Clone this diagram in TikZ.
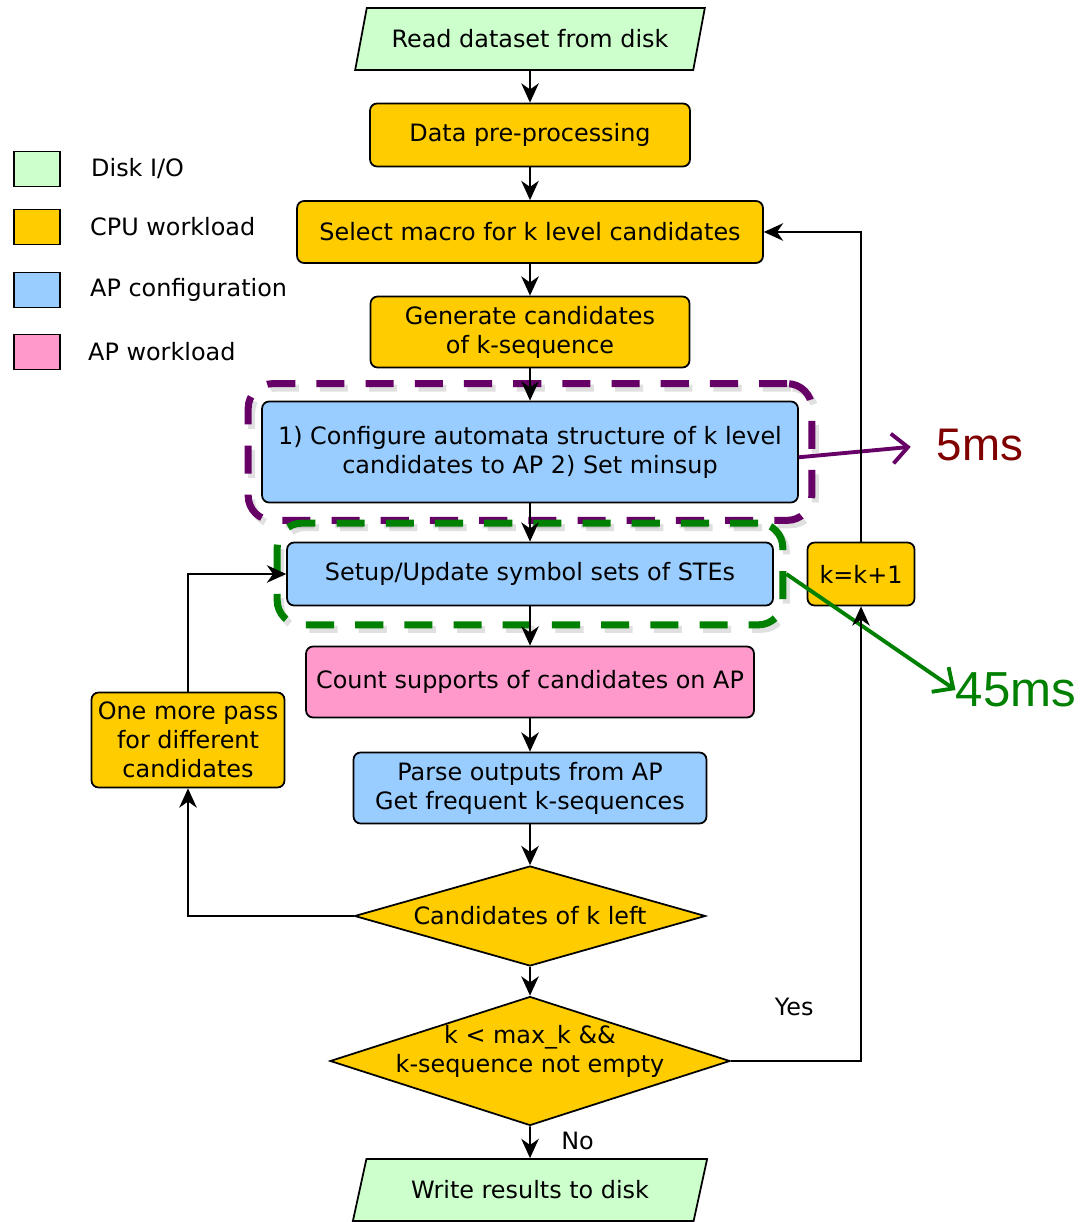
\documentclass[tikz,border=0pt]{standalone}
\usepackage{fontspec}
\setmainfont{DejaVu Sans}
\newfontfamily\timefont{Liberation Sans}
\usetikzlibrary{shapes.geometric,arrows.meta,fit}
\definecolor{diskio}{HTML}{CCFFCC}
\definecolor{cpuwork}{HTML}{FFCC00}
\definecolor{apconf}{HTML}{99CCFF}
\definecolor{apwork}{HTML}{FF99CC}
\definecolor{cfgline}{HTML}{660066}
\definecolor{steline}{HTML}{008000}
\definecolor{msred}{HTML}{800000}

\begin{document}
\begin{tikzpicture}[x=0.02cm, y=-0.02cm, font=\fontsize{13.6}{16.5}\selectfont,
		box/.style={rectangle, rounded corners=4pt, draw, line width=1pt, align=center, inner sep=0pt},
		io/.style={trapezium, trapezium left angle=62, trapezium right angle=118, trapezium stretches=true, draw, line width=1pt, fill=diskio, inner sep=0pt},
		decision/.style={diamond, draw, line width=1pt, fill=cpuwork, inner sep=0pt},
		key/.style={rectangle, draw, line width=1pt, minimum width=0.92cm, minimum height=0.7cm},
		flow/.style={-{Stealth[length=11pt,width=10pt,inset=3.5pt]}, line width=0.9pt},
		frame/.style={rectangle, rounded corners=14pt, line width=4pt, dash pattern=on 16pt off 12pt},
		shade/.style={frame, draw=black, opacity=0.12, xshift=2pt, yshift=-2.5pt},
		timing/.style={-{Straight Barb[length=9pt,width=17pt]}, line width=2.2pt}]
			\useasboundingbox (0,0) rectangle (1090,1222);
			% legend
			\draw (37,169) node [key, fill=diskio] (kio) {};
			\draw (37,227) node [key, fill=cpuwork] (kcpu) {};
			\draw (37,290) node [key, fill=apconf] (kconf) {};
			\draw (37,352) node [key, fill=apwork] (kapw) {};
			\draw (85,169) node [anchor=west] (tio) {Disk I/O};
			\draw (84,227) node [anchor=west] (tcpu) {CPU workload};
			\draw (84,290) node [anchor=west] (tconf) {AP configuration};
			\draw (82,352) node [anchor=west] (tapw) {AP workload};
			% main flow
			\draw (530,39) node [io, minimum width=7cm, minimum height=1.24cm] (read) {Read dataset from disk};
			\draw (530,135) node [box, fill=cpuwork, minimum width=6.4cm, minimum height=1.26cm] (prep) {Data pre-processing};
			\draw (530,232) node [box, fill=cpuwork, minimum width=9.32cm, minimum height=1.24cm] (select) {Select macro for k level candidates};
			\draw (530,332) node [box, fill=cpuwork, minimum width=6.38cm, minimum height=1.42cm] (gen) {Generate candidates\\of k-sequence};
			\draw (530,452) node [box, fill=apconf, minimum width=10.72cm, minimum height=2.02cm] (cfg) {1) Configure automata structure of k level\\candidates to AP 2) Set minsup};
			\draw (530,574) node [box, fill=apconf, minimum width=9.72cm, minimum height=1.26cm] (setup) {Setup/Update symbol sets of STEs};
			\draw (530,682) node [box, fill=apwork, minimum width=8.96cm, minimum height=1.42cm] (count) {Count supports of candidates on AP};
			\draw (530,788) node [box, fill=apconf, minimum width=7.06cm, minimum height=1.42cm] (parse) {Parse outputs from AP\\Get frequent k-sequences};
			\draw (530,916) node [decision, minimum width=7.02cm, minimum height=2cm, label={[align=center]center:Candidates of k left}] (left) {};
			\draw (530,1061) node [decision, minimum width=8cm, minimum height=2.58cm, label={[align=center, yshift=5.5pt]center:k < max\_k \&\&\\k-sequence not empty}] (more) {};
			\draw (530,1190) node [io, minimum width=7.1cm, minimum height=1.24cm] (write) {Write results to disk};
			\draw (188,740) node [box, fill=cpuwork, minimum width=3.86cm, minimum height=1.9cm] (pass) {One more pass\\for different\\candidates};
			\draw (861,574) node [box, fill=cpuwork, minimum width=2.14cm, minimum height=1.26cm] (inc) {k=k+1};
			% timing frames
			\node [shade, fit=(cfg), inner xsep=0.26cm, inner ysep=0.34cm] (cfgshade) {};
			\node [shade, fit=(setup), inner xsep=0.18cm, inner ysep=0.37cm] (setupshade) {};
			\node [frame, draw=cfgline, fit=(cfg), inner xsep=0.26cm, inner ysep=0.34cm] (cfgframe) {};
			\node [frame, draw=steline, fit=(setup), inner xsep=0.18cm, inner ysep=0.37cm] (setupframe) {};
			\draw (980,445) node [text=msred, font=\timefont\fontsize{26}{30}\selectfont] (t5) {5ms};
			\draw (1016,690) node [text=steline, font=\timefont\fontsize{28}{32}\selectfont, inner sep=0pt] (t45) {45ms};
			\draw [timing, draw=cfgline, shorten >=0.4cm] ([yshift=-3pt]cfg.east) -- (t5.west);
			\draw [timing, draw=steline] (setupframe.east) -- (t45.west);
			% connectors
			\path [flow] (read) edge (prep);
			\path [flow] (prep) edge (select);
			\path [flow] (select) edge (gen);
			\path [flow] (gen) edge (cfg);
			\path [flow] (cfg) edge (setup);
			\path [flow] (setup) edge (count);
			\path [flow] (count) edge (parse);
			\path [flow] (parse) edge (left);
			\path [flow] (left) edge (more);
			\path [flow] (more) edge node [right, xshift=14pt, yshift=1pt] {No} (write);
			\draw [flow] (more.east) -| node [pos=0.5, xshift=-38pt, yshift=31pt] {Yes} (inc.south);
			\draw [flow] (inc.north) |- (select.east);
			\draw [flow] (left.west) -| (pass.south);
			\draw [flow] (pass.north) |- (setup.west);
		\end{tikzpicture}
\end{document}
